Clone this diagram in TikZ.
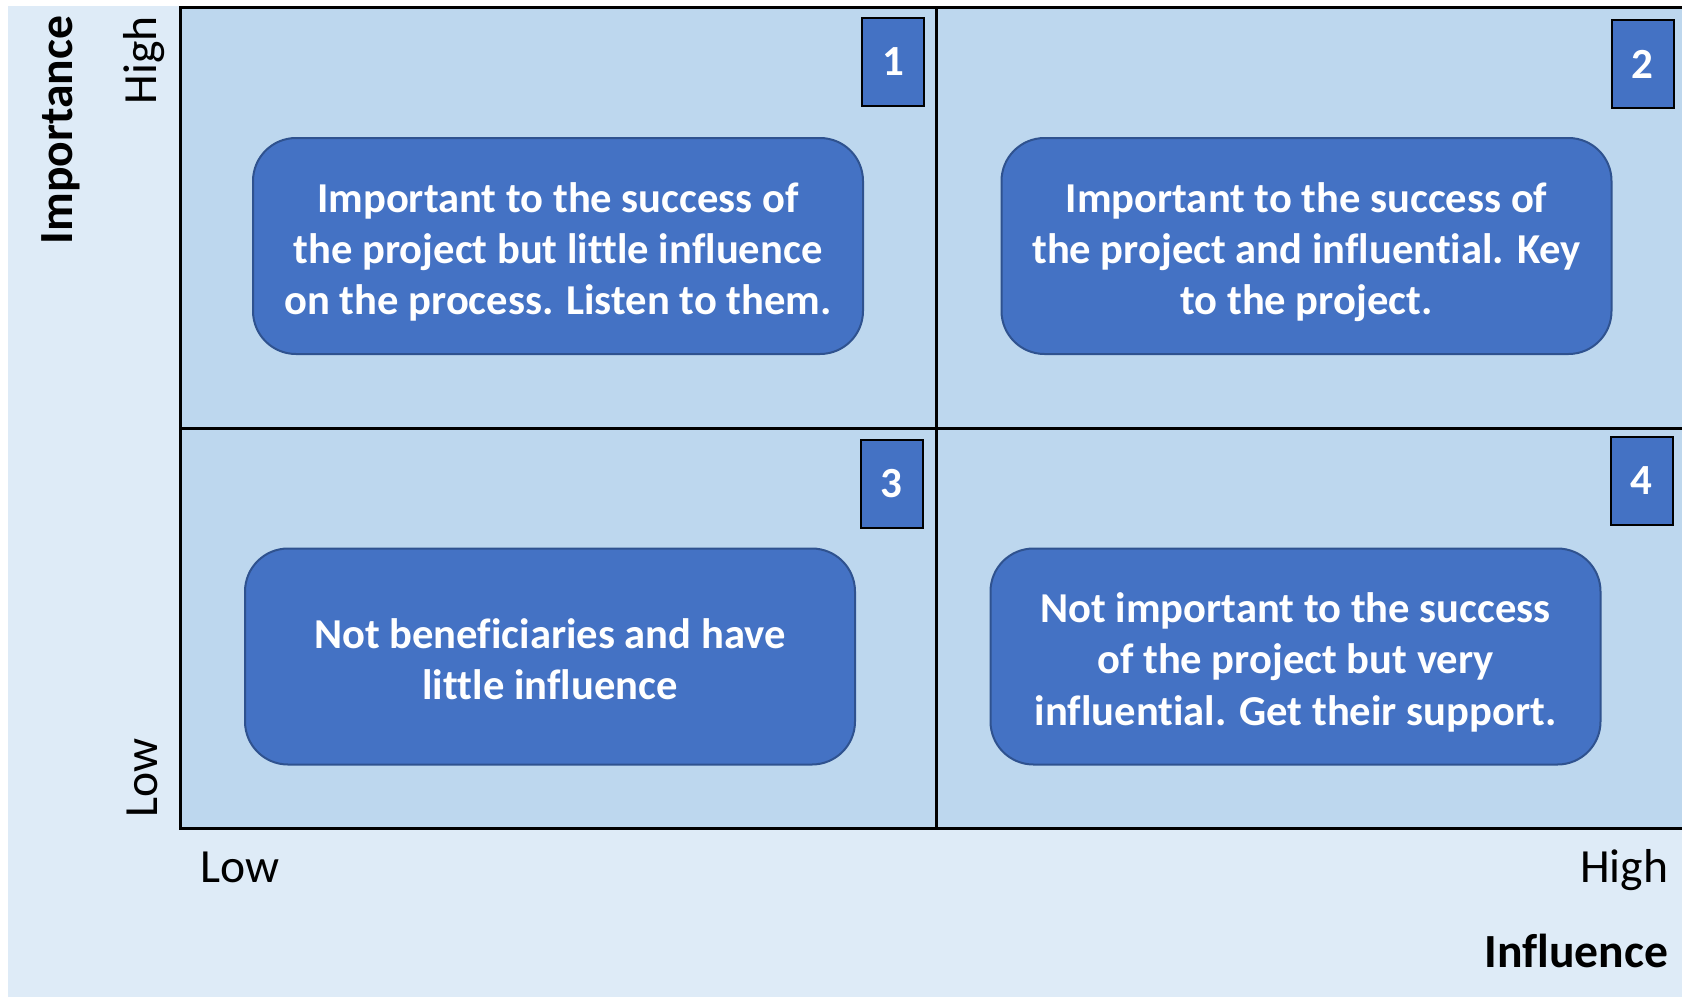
\documentclass[tikz,border=0pt]{standalone}
\usepackage{fontspec}
\setmainfont{Carlito}[Ligatures=NoCommon]

\definecolor{outerbg}{HTML}{DEEBF7}
\definecolor{gridbg}{HTML}{BDD7EE}
\definecolor{boxfill}{HTML}{4472C4}
\definecolor{boxline}{HTML}{2F528F}

% struts for first and last line of the quadrant texts
\newcommand{\qtop}{\rule{0pt}{22.4pt}}
\newcommand{\qbot}{\rule[-5pt]{0pt}{5pt}}

\tikzset{every picture/.style={line width=0.75pt}}
\tikzset{
  quadbox/.style={draw=boxline, fill=boxfill, line width=1pt, rounded corners=21.5pt, minimum width=305pt, minimum height=108pt, align=center, text=white, font=\fontsize{21.3}{25.6}\selectfont\bfseries},
  numbox/.style={draw=black, fill=boxfill, line width=1pt, minimum width=31pt, minimum height=44pt, inner sep=0pt, text=white, font=\fontsize{21.5}{25}\selectfont\bfseries},
  axislabel/.style={inner sep=0pt, font=\fontsize{23.8}{28}\selectfont},
  axistitle/.style={inner sep=0pt, font=\fontsize{23.8}{28}\selectfont\bfseries},
}

\begin{document}
\begin{tikzpicture}[x=0.5pt,y=0.5pt,yscale=-1,xscale=1]
\useasboundingbox (0,0) rectangle (1682,997);
\clip (0,0) rectangle (1682,997);

%Shape: Rectangle
\draw [draw opacity=0, fill=outerbg] (8,6) rectangle (1682,997);
%Shape: Rectangle
\draw [fill=gridbg, line width=1.5pt] (180,7) rectangle (1700,828);
%Straight Lines
\draw [line width=1.5pt] (936.5,7) -- (936.5,828);
%Straight Lines
\draw [line width=1.5pt] (180,428) -- (1700,428);

%Shape: Rounded Rectangle
\draw (558,246) node [quadbox] (listenbox) {\qtop Important to the success of\\the project but little influence\\on the process. Listen to them.\qbot};
%Shape: Rounded Rectangle
\draw (1306.5,246) node [quadbox] (keybox) {\qtop Important to the success of\\the project and influential. Key\\to the project.\qbot};
%Shape: Rounded Rectangle
\draw (550,656.5) node [quadbox] (lowbox) {\qtop Not beneficiaries and have\\little influence\qbot};
%Shape: Rounded Rectangle
\draw (1295.5,656.5) node [quadbox] (supportbox) {\qtop Not important to the success\\of the project but very\\influential. Get their support.\qbot};

%Shape: Rectangle
\draw (893.4,61.7) node [numbox] (num1) {1};
%Shape: Rectangle
\draw (1642.5,64) node [numbox] (num2) {2};
%Shape: Rectangle
\draw (891.5,483.7) node [numbox] (num3) {3};
%Shape: Rectangle
\draw (1641.5,480.6) node [numbox] (num4) {4};

% Text Node
\draw (72.5,130) node [axistitle, rotate=90, anchor=base] (importance) {Importance};
% Text Node
\draw (156,60.5) node [axislabel, rotate=90, anchor=base] (imphigh) {High};
% Text Node
\draw (157,777.7) node [axislabel, rotate=90, anchor=base] (implow) {Low};
% Text Node
\draw (240,882.7) node [axislabel, anchor=base] (inflow) {Low};
% Text Node
\draw (1669,882) node [axislabel, anchor=base east] (infhigh) {High};
% Text Node
\draw (1669,967) node [axistitle, anchor=base east] (influence) {Influence};

\end{tikzpicture}
\end{document}
